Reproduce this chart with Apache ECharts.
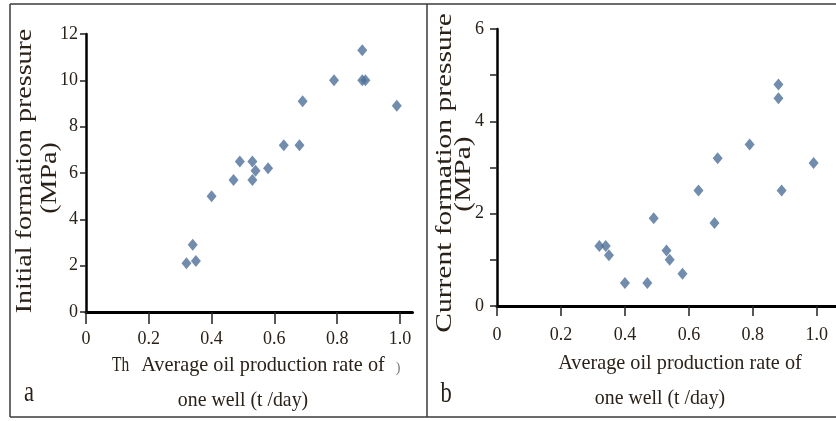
<!DOCTYPE html>
<html>
<head>
<meta charset="utf-8">
<script src="https://cdn.jsdelivr.net/npm/echarts@6/dist/echarts.min.js"></script>
<style>
  html, body { margin: 0; padding: 0; background: #fff; }
  #chart { width: 836px; height: 421px; }
</style>
</head>
<body>
<div id="chart"></div>
<script>
// panel a: initial formation pressure vs. average oil rate per well
const rateA = [0.32, 0.34, 0.35, 0.40, 0.47, 0.49, 0.53, 0.54, 0.53, 0.58, 0.63, 0.68, 0.69, 0.79, 0.88, 0.88, 0.89, 0.99];
const initialPressure = [2.1, 2.9, 2.2, 5.0, 5.7, 6.5, 6.5, 6.1, 5.7, 6.2, 7.2, 7.2, 9.1, 10.0, 11.3, 10.0, 10.0, 8.9];

// panel b: current formation pressure vs. average oil rate per well
const rateB = [0.32, 0.34, 0.35, 0.40, 0.47, 0.49, 0.53, 0.54, 0.58, 0.63, 0.68, 0.69, 0.79, 0.88, 0.88, 0.89, 0.99];
const currentPressure = [1.3, 1.3, 1.1, 0.5, 0.5, 1.9, 1.2, 1.0, 0.7, 2.5, 1.8, 3.2, 3.5, 4.8, 4.5, 2.5, 3.1];

// tick labels
const xTicks = [0, 0.2, 0.4, 0.6, 0.8, 1.0];
const yTicksA = [0, 2, 4, 6, 8, 10, 12];
const yTicksB = [0, 2, 4, 6];
const yMinorTicksB = [0, 1, 2, 3, 4, 5, 6];

const serif = "Liberation Serif";
const textColor = "#2a2119";
const markerColor = "#4d6f98";

const zip = (xs, ys) => xs.map((x, i) => [x, ys[i]]);
const fmtX = (v) => (v === 0 ? "0" : v.toFixed(1));

const xAxisFor = (gridIndex, max, tickLen, labelMargin) => ({
  type: "value",
  gridIndex,
  min: 0,
  max,
  splitLine: { show: false },
  axisLine: { onZero: false, lineStyle: { color: "#000", width: 3 } },
  axisTick: { customValues: xTicks, length: tickLen, lineStyle: { color: "#222", width: 1.5 } },
  axisLabel: {
    customValues: xTicks,
    formatter: fmtX,
    margin: labelMargin,
    fontFamily: serif,
    fontSize: 18,
    color: textColor,
  },
});

const yAxisFor = (gridIndex, max, labels, ticks, tickLen, labelMargin) => ({
  type: "value",
  gridIndex,
  min: 0,
  max,
  splitLine: { show: false },
  axisLine: { onZero: false, lineStyle: { color: "#000", width: 2.5 } },
  axisTick: { customValues: ticks, length: tickLen, lineStyle: { color: "#222", width: 1.5 } },
  axisLabel: {
    customValues: labels,
    margin: labelMargin,
    fontFamily: serif,
    fontSize: 18,
    color: textColor,
  },
});

const label = (text, x, y, opts = {}) => ({
  type: "text",
  x,
  y,
  rotation: opts.rotation || 0,
  scaleX: opts.scaleX || 1,
  scaleY: opts.scaleY || 1,
  silent: true,
  style: {
    text,
    fontFamily: serif,
    fontSize: opts.size || 22,
    fill: opts.color || textColor,
    align: opts.align || "center",
    verticalAlign: "middle",
  },
});

const frameLine = (x1, y1, x2, y2) => ({
  type: "line",
  silent: true,
  shape: { x1, y1, x2, y2 },
  style: { stroke: "#3a3a3a", lineWidth: 1.5 },
});

const chart = echarts.init(document.getElementById("chart"));
chart.setOption({
  animation: false,
  backgroundColor: "#fff",
  grid: [
    { left: 86, top: 34, width: 326.5, height: 278 },
    { left: 497, top: 29, width: 340, height: 277 },
  ],
  xAxis: [xAxisFor(0, 1.04, 12, 18), xAxisFor(1, 1.06, 10, 20)],
  yAxis: [
    yAxisFor(0, 12, yTicksA, yTicksA, 6, 8),
    yAxisFor(1, 6, yTicksB, yMinorTicksB, 7, 13),
  ],
  series: [
    {
      name: "Initial formation pressure",
      type: "scatter",
      xAxisIndex: 0,
      yAxisIndex: 0,
      symbol: "diamond",
      symbolSize: [10, 12],
      itemStyle: { color: markerColor },
      data: zip(rateA, initialPressure),
    },
    {
      name: "Current formation pressure",
      type: "scatter",
      xAxisIndex: 1,
      yAxisIndex: 1,
      symbol: "diamond",
      symbolSize: [10, 12],
      itemStyle: { color: markerColor },
      data: zip(rateB, currentPressure),
    },
  ],
  graphic: [
    // frame around both panels
    frameLine(10, 4, 836, 4),
    frameLine(10, 417, 836, 417),
    frameLine(10, 4, 10, 417),
    frameLine(427, 4, 427, 417),

    // panel a titles
    label("Initial formation pressure", 25, 171, { rotation: Math.PI / 2, size: 28, scaleY: 0.8 }),
    label("(MPa)", 50, 178, { rotation: Math.PI / 2, size: 28, scaleY: 0.8 }),
    label("Th", 112, 365, { align: "left", scaleX: 0.7 }),
    label("Average oil production rate of", 263, 365, { scaleX: 0.92 }),
    label(")", 398, 368, { size: 14, color: "#777" }),
    label("one well (t /day)", 243, 400, { scaleX: 0.9 }),
    label("a", 29, 393, { size: 30, scaleX: 0.75 }),

    // panel b titles
    label("Current formation pressure", 445, 173, { rotation: Math.PI / 2, size: 29.5, scaleY: 0.78 }),
    label("(MPa)", 464, 174, { rotation: Math.PI / 2, size: 29.5, scaleY: 0.78 }),
    label("Average oil production rate of", 680, 363, { scaleX: 0.92 }),
    label("one well (t /day)", 660, 398, { scaleX: 0.9 }),
    label("b", 446, 394, { size: 30, scaleX: 0.75 }),
  ],
});
</script>
</body>
</html>
